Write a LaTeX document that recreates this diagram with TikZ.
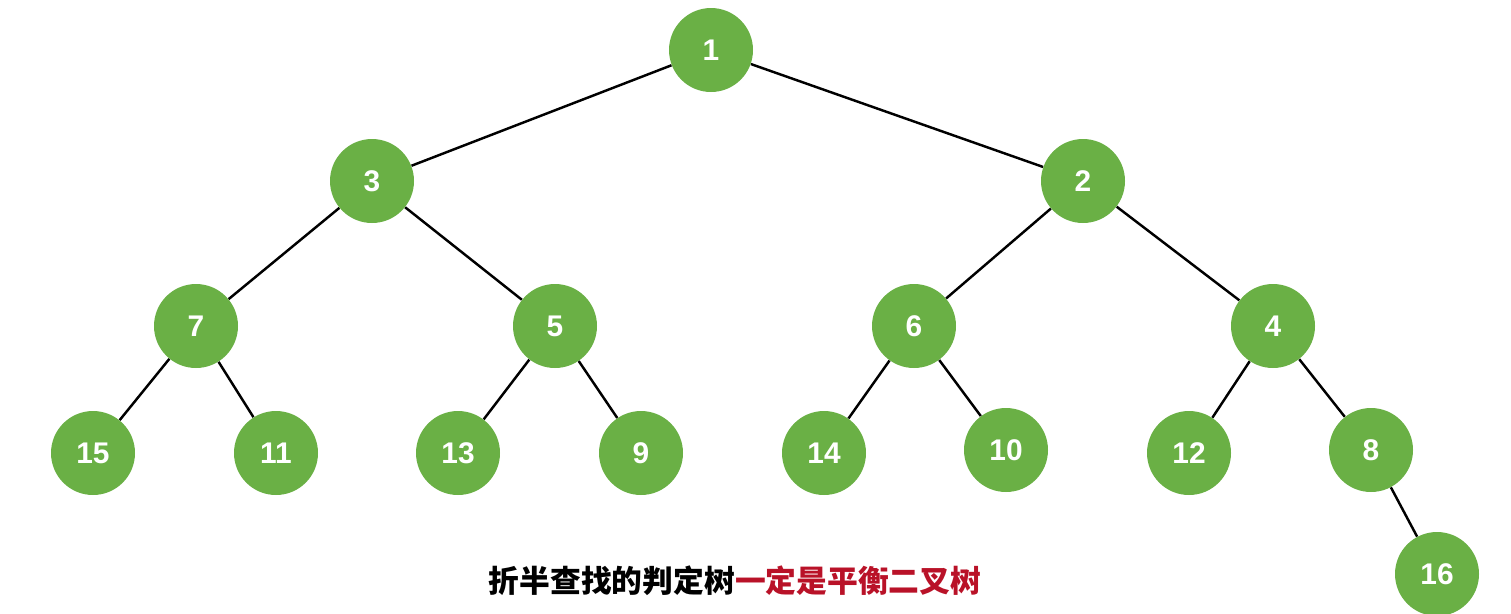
\documentclass[tikz,border=0pt]{standalone}
\usepackage{fontspec}
\usepackage{xcolor}
\setmainfont{Liberation Sans}
\newfontfamily\cjk{Noto Sans CJK SC}
\definecolor{keygreen}{RGB}{106,176,69}
\definecolor{notered}{RGB}{185,18,40}
\usetikzlibrary{positioning}

\begin{document}
\begin{tikzpicture}[
  keynode/.style={
    circle, fill=keygreen, minimum size=1.68cm,
    text=white, font=\fontsize{17}{20}\selectfont\bfseries, inner sep=0pt
  },
  branch/.style={draw, line width=1.4pt, black}
]
\useasboundingbox (0,0) rectangle (30.22,-12.26);

% level 0 and 1
\node[keynode] (n1) at (14.22,-1.00) {1};
\node[keynode] (n3) at (7.44,-3.62) {3};
\node[keynode] (n2) at (21.66,-3.62) {2};

% level 2
\node[keynode] (n7) at (3.92,-6.52) {7};
\node[keynode] (n5) at (11.10,-6.52) {5};
\node[keynode] (n6) at (18.28,-6.52) {6};
\node[keynode] (n4) at (25.46,-6.52) {4};

% level 3
\node[keynode] (n15) at (1.86,-9.06) {15};
\node[keynode] (n11) at (5.52,-9.06) {11};
\node[keynode] (n13) at (9.16,-9.06) {13};
\node[keynode] (n9) at (12.82,-9.06) {9};
\node[keynode] (n14) at (16.48,-9.06) {14};
\node[keynode] (n10) at (20.12,-9.00) {10};
\node[keynode] (n12) at (23.78,-9.06) {12};
\node[keynode] (n8) at (27.42,-9.00) {8};

% level 4
\node[keynode] (n16) at (28.74,-11.48) {16};

\foreach \p/\c in {n1/n3, n1/n2, n3/n7, n3/n5, n2/n6, n2/n4,
                   n7/n15, n7/n11, n5/n13, n5/n9, n6/n14, n6/n10,
                   n4/n12, n4/n8, n8/n16}
  \path[branch] (\p) -- (\c);

\node (caption) at (14.70,-11.62)
  {\cjk\fontsize{17.5}{20}\selectfont\bfseries 折半查找的判定树\textcolor{notered}{一定是平衡二叉树}};

\end{tikzpicture}
\end{document}
